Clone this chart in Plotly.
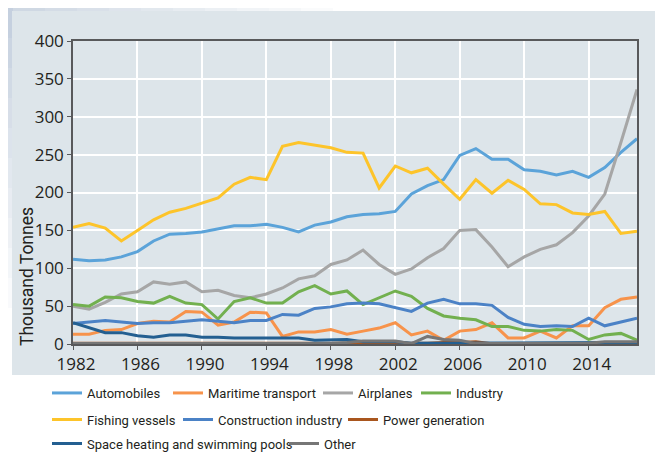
import plotly.graph_objects as go

# ---------------- data ----------------
years = list(range(1982, 2018))

automobiles = [112, 110, 111, 115, 122, 136, 145, 146, 148, 152, 156, 156, 158, 154, 148, 157, 161,
               168, 171, 172, 175, 198, 209, 217,
               249, 258, 244, 244, 230, 228, 223, 228, 220, 233, 253, 271]
maritime = [13, 13, 18, 19, 27, 30, 29, 43, 42, 25, 29, 42, 41, 10, 16, 16, 19,
            13, 17, 21, 28, 12, 17, 5,
            17, 19, 28, 8, 8, 17, 8, 24, 24, 48, 59, 62]
airplanes = [50, 46, 55, 66, 69, 82, 79, 82, 69, 71, 64, 61, 66, 74, 86, 90, 105,
             111, 124, 105, 92, 99, 114, 126,
             150, 151, 128, 102, 115, 125, 131, 147, 169, 198, 266, 336]
industry = [52, 50, 62, 61, 56, 54, 63, 54, 52, 33, 56, 61, 54, 54, 69, 77, 66,
            70, 52, 61, 70, 63, 47, 37,
            34, 32, 23, 23, 18, 17, 19, 18, 6, 12, 14, 5]
fishing = [154, 159, 153, 136, 150, 164, 174, 179, 186, 193, 211, 220, 217, 261, 266, 262, 259,
           253, 252, 206, 235, 226, 232, 211,
           191, 217, 199, 216, 204, 185, 184, 173, 171, 175, 146, 149]
construction = [27, 29, 31, 29, 27, 28, 28, 30, 32, 30, 28, 31, 31, 39, 38, 47, 49,
                53, 54, 53, 48, 43, 54, 59,
                53, 53, 51, 35, 26, 23, 24, 23, 34, 24, 29, 34]
power = [1, 1, 1, 1, 0.5, 0.5, 1, 0.5, 1, 1, 1, 0.5, 0.5, 0.5, 1, 0.5, 0.5,
         0.5, 0.5, 0.5, 0.5, 1, 1, 2,
         2, 3, 0.5, 0.5, 0.5, 0.5, 0.5, 0.5, 1, 1.5, 1.5, 1.5]
space_heating = [28, 21, 15, 15, 11, 9, 12, 12, 9, 9, 8, 8, 8, 8, 8, 5, 6,
                 6, 3, 3, 3, 1, 1, 1,
                 1, 1, 1, 1, 1, 1, 1, 1, 2, 2, 2, 2]
other = [0.5, 0.5, 0.5, 0.5, 0.5, 0.5, 0.5, 0.5, 0.5, 0.5, 0.5, 0.5, 0.5, 0.5, 0.5, 0.5, 0.5,
         2, 4, 4, 4, 0.5, 10, 6,
         5, 0.5, 0.5, 0.5, 1, 0.5, 0.5, 0.5, 1, 3, 3, 3]

series_names = ["Automobiles", "Maritime transport", "Airplanes", "Industry",
                "Fishing vessels", "Construction industry", "Power generation",
                "Space heating and swimming pools", "Other"]
series_values = [automobiles, maritime, airplanes, industry, fishing,
                 construction, power, space_heating, other]
series_colors = ["#5ba3d9", "#f7934b", "#a6a6a6", "#72b04f", "#fdc42a",
                 "#4b82c6", "#a9561e", "#235f91", "#767676"]

x_tick_vals = list(range(1982, 2017, 4))
y_tick_vals = list(range(0, 401, 50))

# ---------------- layout geometry ----------------
# The page body has an 8px margin, so the figure starts 8px in from the
# window corner; target positions below are in window pixels.
OFF = 8
W, H = 664, 452
SL, SR, ST, SB = 73, 637, 41, 344      # plot area edges (window px)
L, R, T, B = SL - OFF, SR - OFF, ST - OFF, SB - OFF


def px_x(p):
    return (p - OFF - L) / (R - L)


def px_y(p):
    return (B - (p - OFF)) / (B - T)


LEGFONT = "Roboto, Liberation Sans, sans-serif"
TICKFONT = "Open Sans, sans-serif"
TEXT = "#231f20"

fig = go.Figure()
legend_ids = ["legend"] + [f"legend{i}" for i in range(2, 10)]
for name, vals, col, lid in zip(series_names, series_values, series_colors, legend_ids):
    fig.add_trace(go.Scatter(
        x=years, y=vals, name=name, mode="lines",
        line=dict(color=col, width=3), legend=lid,
    ))

# legend placement: (text start px, row y px) in window pixels
legend_pos = [(87, 393), (208, 393), (358, 393), (456, 393),
              (87, 419.5), (218, 419.5), (383, 419.5),
              (87, 443.5), (324, 443.5)]
legend_layout = {}
for lid, (tx, ty) in zip(legend_ids, legend_pos):
    legend_layout[lid] = dict(
        x=px_x(tx - 40), y=px_y(ty), xanchor="left", yanchor="middle",
        orientation="h", bgcolor="rgba(0,0,0,0)", borderwidth=0,
        font=dict(family=LEGFONT, size=13, color=TEXT),
    )

shapes = []
# decorative photo-like backdrop (left and top edges)
for k in range(10):
    op = 0.55 * (1 - k / 10)
    shapes.append(dict(type="rect", xref="paper", yref="paper",
                       x0=px_x(OFF), x1=px_x(13), y0=px_y(OFF + 30 * (k + 1)), y1=px_y(OFF + 30 * k),
                       fillcolor=f"rgba(150,170,196,{op:.3f})", line=dict(width=0), layer="below"))
for k in range(10):
    op = 0.5 * (1 - k / 10)
    shapes.append(dict(type="rect", xref="paper", yref="paper",
                       x0=px_x(13 + 32 * k), x1=px_x(13 + 32 * (k + 1)), y0=px_y(12), y1=px_y(OFF),
                       fillcolor=f"rgba(160,178,200,{op:.3f})", line=dict(width=0), layer="below"))
# chart panel
shapes.append(dict(type="rect", xref="paper", yref="paper",
                   x0=px_x(12), x1=px_x(655), y0=px_y(375), y1=px_y(11),
                   fillcolor="#dde5ea", line=dict(width=0), layer="below"))

fig.update_layout(
    width=W, height=H,
    margin=dict(l=L, r=W - R, t=T, b=H - B, autoexpand=False),
    paper_bgcolor="white",
    plot_bgcolor="rgba(0,0,0,0)",
    showlegend=True,
    shapes=shapes,
    font=dict(family=TICKFONT, color=TEXT),
    annotations=[dict(
        text="Thousand Tonnes", textangle=-90, xref="paper", yref="paper",
        x=px_x(27), y=px_y(276), xanchor="center", yanchor="middle", showarrow=False,
        font=dict(family=LEGFONT, size=17.5, color=TEXT),
    )],
    **legend_layout,
)

fig.update_xaxes(
    range=[1982, 2017], tickvals=x_tick_vals, ticktext=[str(v) for v in x_tick_vals],
    showgrid=True, gridcolor="white", gridwidth=1.5,
    showline=True, linecolor="#58595b", linewidth=1.5, mirror=True,
    ticks="outside", ticklen=4, tickcolor="#58595b",
    ticklabelshift=3,
    tickfont=dict(family=TICKFONT, size=17, color=TEXT),
    zeroline=False,
)
fig.update_yaxes(
    range=[0, 400], tickvals=y_tick_vals,
    showgrid=True, gridcolor="white", gridwidth=1.5,
    showline=True, linecolor="#58595b", linewidth=1.5, mirror=True,
    ticks="outside", ticklen=4, tickcolor="#58595b",
    tickfont=dict(family=TICKFONT, size=17, color=TEXT),
    zeroline=False,
)

fig.write_html("out.html")
